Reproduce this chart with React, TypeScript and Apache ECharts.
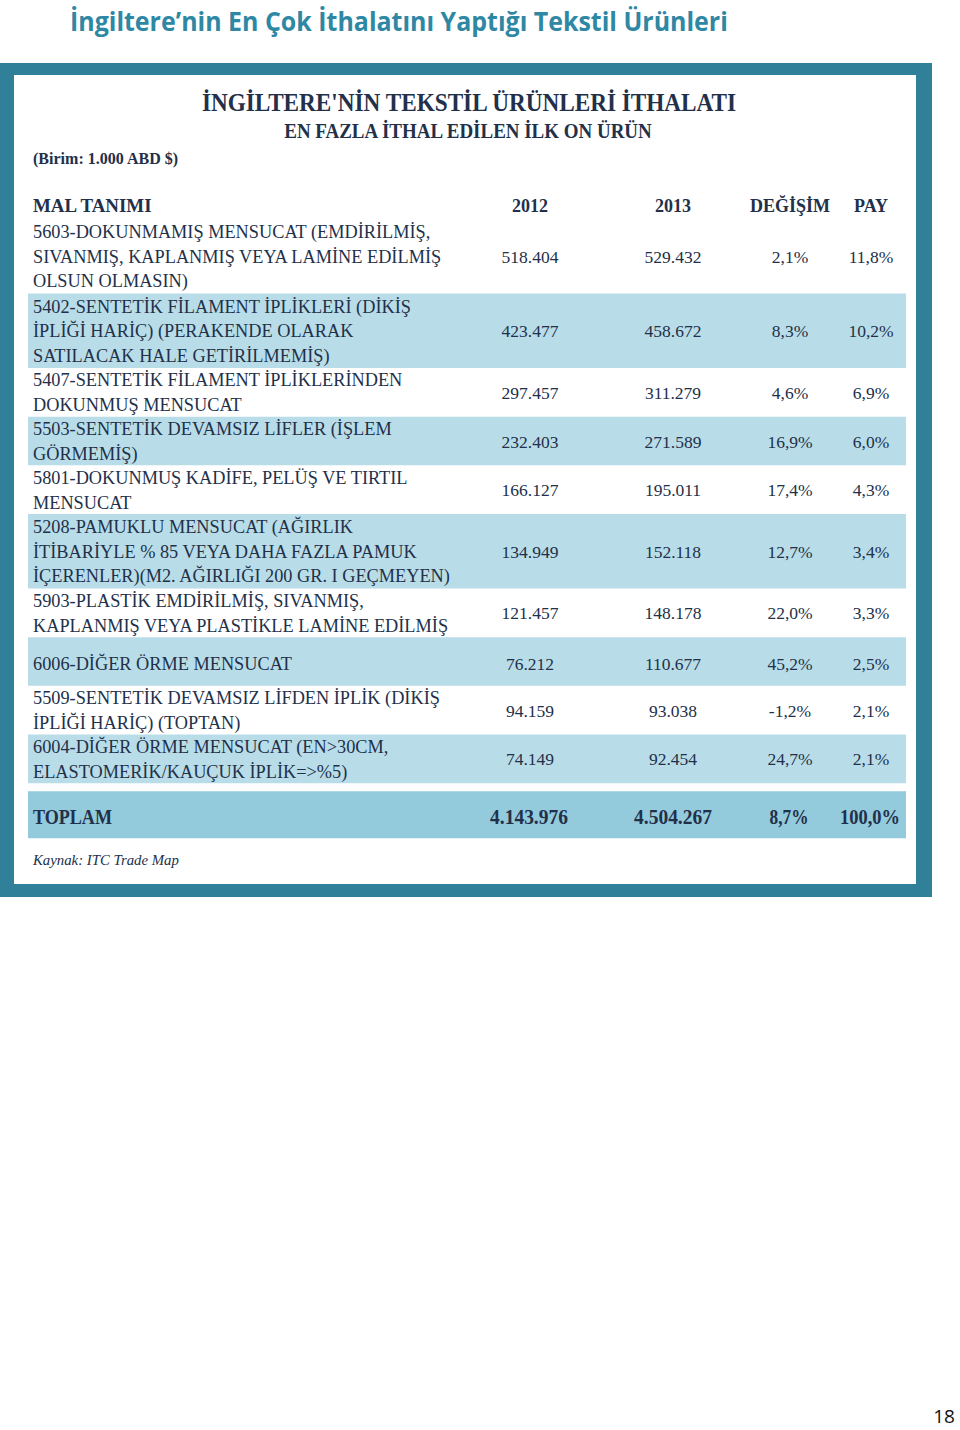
import React, { useEffect, useRef } from "react";
import * as echarts from "echarts";

const pageTitle = "İngiltere’nin En Çok İthalatını Yaptığı Tekstil Ürünleri";
const tableTitle = "İNGİLTERE'NİN TEKSTİL ÜRÜNLERİ İTHALATI";
const tableSubtitle = "EN FAZLA İTHAL EDİLEN İLK ON ÜRÜN";
const unitNote = "(Birim: 1.000 ABD $)";
const sourceNote = "Kaynak: ITC Trade Map";
const pageNumber = "18";

const headers = ["MAL TANIMI", "2012", "2013", "DEĞİŞİM", "PAY"];

const categories = [
  ["5603-DOKUNMAMIŞ MENSUCAT (EMDİRİLMİŞ,", "SIVANMIŞ, KAPLANMIŞ VEYA LAMİNE EDİLMİŞ", "OLSUN OLMASIN)"],
  ["5402-SENTETİK FİLAMENT İPLİKLERİ (DİKİŞ", "İPLİĞİ HARİÇ) (PERAKENDE OLARAK", "SATILACAK HALE GETİRİLMEMİŞ)"],
  ["5407-SENTETİK FİLAMENT İPLİKLERİNDEN", "DOKUNMUŞ MENSUCAT"],
  ["5503-SENTETİK DEVAMSIZ LİFLER (İŞLEM", "GÖRMEMİŞ)"],
  ["5801-DOKUNMUŞ KADİFE, PELÜŞ VE TIRTIL", "MENSUCAT"],
  ["5208-PAMUKLU MENSUCAT (AĞIRLIK", "İTİBARİYLE % 85 VEYA DAHA FAZLA PAMUK", "İÇERENLER)(M2. AĞIRLIĞI 200 GR. I GEÇMEYEN)"],
  ["5903-PLASTİK EMDİRİLMİŞ, SIVANMIŞ,", "KAPLANMIŞ VEYA PLASTİKLE LAMİNE EDİLMİŞ"],
  ["6006-DİĞER ÖRME MENSUCAT"],
  ["5509-SENTETİK DEVAMSIZ LİFDEN İPLİK (DİKİŞ", "İPLİĞİ HARİÇ) (TOPTAN)"],
  ["6004-DİĞER ÖRME MENSUCAT (EN>30CM,", "ELASTOMERİK/KAUÇUK İPLİK=>%5)"],
];

const values2012 = [518404, 423477, 297457, 232403, 166127, 134949, 121457, 76212, 94159, 74149];
const values2013 = [529432, 458672, 311279, 271589, 195011, 152118, 148178, 110677, 93038, 92454];
const changePct = [2.1, 8.3, 4.6, 16.9, 17.4, 12.7, 22.0, 45.2, -1.2, 24.7];
const sharePct = [11.8, 10.2, 6.9, 6.0, 4.3, 3.4, 3.3, 2.5, 2.1, 2.1];

const totalLabel = "TOPLAM";
const total2012 = 4143976;
const total2013 = 4504267;
const totalChange = 8.7;
const totalShare = 100.0;

const fmtThousands = (v: number) => String(v).replace(/\B(?=(\d{3})+(?!\d))/g, ".");
const fmtPct = (v: number) => v.toFixed(1).replace(".", ",") + "%";

const TEAL = "#31809a";
const TITLE_TEAL = "#2e88a4";
const BAND = "#b9dde8";
const TOTAL_BAND = "#93cadc";
const INK = "#22304a";
const SERIF = "'Liberation Serif', 'Times New Roman', serif";
const SANS = "'Open Sans', 'Noto Sans', sans-serif";

let measureCtx: CanvasRenderingContext2D | null = null;
function measure(text: string, font: string) {
  if (!measureCtx) measureCtx = document.createElement("canvas").getContext("2d");
  if (!measureCtx) return 1;
  measureCtx.font = font;
  return measureCtx.measureText(text).width || 1;
}

function txt(text: string, x: number, y: number, font: string, align: string, fill = INK, fitWidth?: number) {
  const scaleX = fitWidth ? fitWidth / measure(text, font) : 1;
  return {
    type: "text",
    x,
    y,
    scaleX,
    silent: true,
    style: {
      text,
      x: 0,
      y: 0,
      font,
      fill,
      align,
      verticalAlign: "middle",
      textAlign: align,
      textVerticalAlign: "middle",
    },
  };
}

export default function App() {
  const ref = useRef<HTMLDivElement>(null);

  useEffect(() => {
    if (!ref.current) return;
    const chart = echarts.init(ref.current, undefined, { renderer: "svg" });

    const colX = { desc: 33, y2012: 530, y2013: 673, change: 790, share: 871 };
    const bandLeft = 28;
    const bandRight = 906;
    const lineH = 24.7;
    const rowHeight = (n: number) => (n >= 3 ? 74.5 : 48.67);

    const g: any[] = [];
    // frame
    g.push({ type: "rect", shape: { x: 0, y: 63, width: 932, height: 834 }, style: { fill: TEAL }, silent: true });
    g.push({ type: "rect", shape: { x: 14, y: 75, width: 902, height: 809 }, style: { fill: "#ffffff" }, silent: true });

    // page title
    g.push(txt(pageTitle, 70, 21, `bold 26px ${SANS}`, "left", TITLE_TEAL, 658));

    // table titles
    g.push(txt(tableTitle, 469, 103, `bold 25px ${SERIF}`, "center", INK, 536));
    g.push(txt(tableSubtitle, 468, 131, `bold 20px ${SERIF}`, "center", INK, 370));
    g.push(txt(unitNote, 33, 158, `bold 17px ${SERIF}`, "left", INK, 146));

    // header
    const hy = 206;
    const hf = `bold 18px ${SERIF}`;
    g.push(txt(headers[0], colX.desc, hy, hf, "left", INK, 120));
    g.push(txt(headers[1], colX.y2012, hy, hf, "center"));
    g.push(txt(headers[2], colX.y2013, hy, hf, "center"));
    g.push(txt(headers[3], colX.change, hy, hf, "center"));
    g.push(txt(headers[4], colX.share, hy, hf, "center"));

    // rows
    let y = 219;
    categories.forEach((lines, i) => {
      const h = rowHeight(lines.length);
      if (i % 2 === 1) {
        g.push({ type: "rect", shape: { x: bandLeft, y, width: bandRight - bandLeft, height: h }, style: { fill: BAND }, silent: true });
      }
      const cy = y + h / 2 + (lines.length === 1 ? 1.5 : 0);
      const startY = cy - ((lines.length - 1) * lineH) / 2 + 0.5;
      lines.forEach((line, j) => {
        g.push(txt(line, colX.desc, startY + j * lineH, `18.3px ${SERIF}`, "left"));
      });
      const vf = `17.5px ${SERIF}`;
      g.push(txt(fmtThousands(values2012[i]), colX.y2012, cy + 0.5, vf, "center"));
      g.push(txt(fmtThousands(values2013[i]), colX.y2013, cy + 0.5, vf, "center"));
      g.push(txt(fmtPct(changePct[i]), colX.change, cy + 0.5, vf, "center"));
      g.push(txt(fmtPct(sharePct[i]), colX.share, cy + 0.5, vf, "center"));
      y += h;
    });

    // total row
    const ty = y + 8;
    const th = 47;
    g.push({ type: "rect", shape: { x: bandLeft, y: ty, width: bandRight - bandLeft, height: th }, style: { fill: TOTAL_BAND }, silent: true });
    const tcy = ty + th / 2 + 2;
    const tf = `bold 21px ${SERIF}`;
    g.push(txt(totalLabel, colX.desc, tcy, tf, "left", INK, 79));
    g.push(txt(fmtThousands(total2012), 529, tcy, tf, "center", INK, 78));
    g.push(txt(fmtThousands(total2013), 673, tcy, tf, "center", INK, 78));
    g.push(txt(fmtPct(totalChange), 789, tcy, tf, "center", INK, 39));
    g.push(txt(fmtPct(totalShare), 870, tcy, tf, "center", INK, 60));

    // source
    g.push(txt(sourceNote, 33, 860, `italic 15px ${SERIF}`, "left", INK, 146));

    // page number
    g.push(txt(pageNumber, 944, 1416, `19px ${SANS}`, "center", "#111111"));

    chart.setOption({ animation: false, graphic: { elements: g } });
    return () => chart.dispose();
  }, []);

  return (
    <div
      ref={ref}
      style={{ position: "fixed", left: 0, top: 0, width: 960, height: 1430, background: "#ffffff" }}
    />
  );
}
